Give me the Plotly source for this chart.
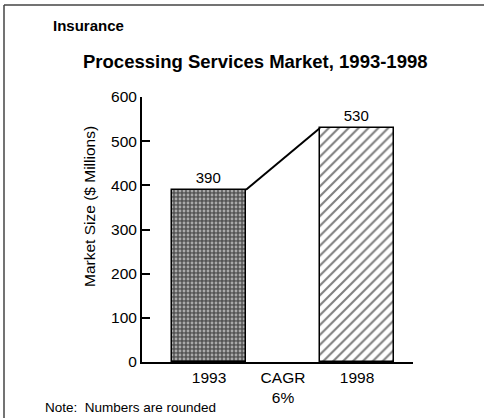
import plotly.graph_objects as go

# Market size data
years = ["1993", "1998"]
market_size = [390, 530]
tick_labels = ["1993", "CAGR<br>6%", "1998"]
bar_pos = [0, 2]
tick_pos = [0, 1, 2]

W, H = 484, 418
L, R, T, B = 142, 71, 97, 56
PW, PH = W - L - R, H - T - B


def px(x):
    return (x - L) / PW


def py(y):
    return (H - B - y) / PH


FONT = "Liberation Sans, Arial, Helvetica, sans-serif"

fig = go.Figure()

fig.add_trace(go.Bar(
    x=[bar_pos[0]], y=[market_size[0]], width=1.0,
    marker=dict(color="#555555", line=dict(color="black", width=1.5),
                pattern=dict(shape=".", fgcolor="white", bgcolor="#555555",
                             size=4, solidity=0.4)),
    text=[str(market_size[0])], textposition="outside",
    textfont=dict(size=15, color="black", family=FONT),
    cliponaxis=False, showlegend=False,
))
fig.add_trace(go.Bar(
    x=[bar_pos[1]], y=[market_size[1]], width=1.0,
    marker=dict(color="white", line=dict(color="black", width=1.5),
                pattern=dict(shape="/", fgcolor="black", bgcolor="white",
                             size=7, solidity=0.3)),
    text=[str(market_size[1])], textposition="outside",
    textfont=dict(size=15, color="black", family=FONT),
    cliponaxis=False, showlegend=False,
))

# growth connector between bar tops
fig.add_trace(go.Scatter(
    x=[bar_pos[0] + 0.5, bar_pos[1] - 0.5], y=market_size,
    mode="lines", line=dict(color="black", width=2),
    showlegend=False, hoverinfo="skip",
))

fig.update_layout(
    width=W, height=H,
    margin=dict(l=L, r=R, t=T, b=B),
    paper_bgcolor="white", plot_bgcolor="white",
    font=dict(family=FONT, color="black", size=15),
    bargap=0,
    xaxis=dict(range=[-67 / 74, 2 + 56 / 74], tickvals=tick_pos, ticktext=tick_labels,
               showline=True, linecolor="black", linewidth=2, ticks="",
               showgrid=False, zeroline=False, tickfont=dict(size=15.5)),
    yaxis=dict(range=[0, 600], tickvals=[0, 100, 200, 300, 400, 500, 600],
               showline=True, linecolor="black", linewidth=2,
               ticks="inside", ticklen=8, tickwidth=2, tickcolor="black",
               showgrid=False, zeroline=False, tickfont=dict(size=15.5)),
    shapes=[
        dict(type="line", xref="paper", yref="paper", x0=px(4), x1=px(4), y0=py(5), y1=py(420),
             line=dict(color="#444", width=1.5)),
        dict(type="line", xref="paper", yref="paper", x0=px(4), x1=px(486), y0=py(5), y1=py(5),
             line=dict(color="#444", width=1.5)),
    ],
    annotations=[
        dict(text="<b>Insurance</b>", xref="paper", yref="paper", x=px(51), y=py(25),
             xanchor="left", yanchor="middle", showarrow=False, font=dict(size=15)),
        dict(text="<b>Processing Services Market, 1993-1998</b>", xref="paper", yref="paper",
             x=px(255), y=py(61), xanchor="center", yanchor="middle", showarrow=False,
             font=dict(size=18.5)),
        dict(text="Market Size ($ Millions)", xref="paper", yref="paper", x=px(89), y=py(207),
             xanchor="center", yanchor="middle", textangle=-90, showarrow=False,
             font=dict(size=15.5)),
        dict(text="Note:  Numbers are rounded", xref="paper", yref="paper", x=px(43), y=py(407),
             xanchor="left", yanchor="middle", showarrow=False, font=dict(size=13.5)),
    ],
)

fig.write_html("out.html")
